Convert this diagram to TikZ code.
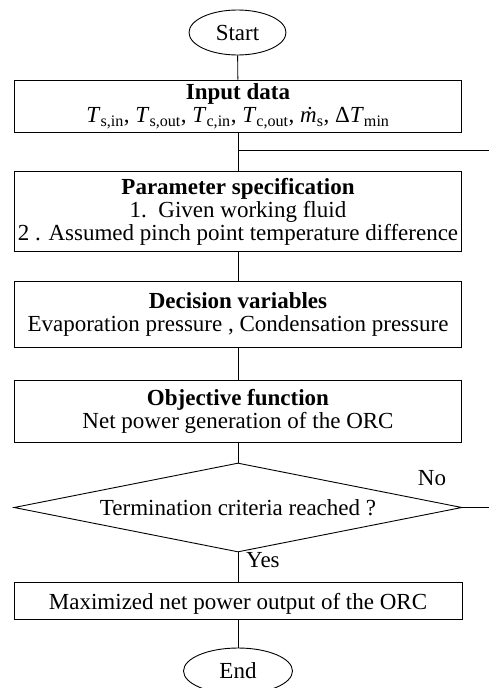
\documentclass[tikz,border=0pt]{standalone}
\usepackage{fontspec}
\setmainfont{Liberation Serif}
\usetikzlibrary{shapes.geometric}
\tikzset{
  base/.style={font=\fontsize{23pt}{23pt}\selectfont, line width=0.9pt},
  procbox/.style={base, draw, rectangle, minimum width=447pt, align=center, inner sep=0pt,
    execute at begin node={\rule{0pt}{22pt}}},
  term/.style={base, draw, ellipse, inner sep=0pt},
  decide/.style={base, draw, diamond, aspect=5, inner sep=0pt, minimum width=448pt, minimum height=89pt},
  conn/.style={line width=0.9pt},
  lbl/.style={font=\fontsize{23pt}{23pt}\selectfont, inner sep=0pt}
}
\begin{document}
\begin{tikzpicture}[x=1pt,y=-1pt]
\useasboundingbox (0,0) rectangle (489,688);
\clip (0,0) rectangle (489,688);
\node[term, minimum width=97pt, minimum height=45pt] (start) at (237.5,32.5) {Start};
\node[procbox, minimum height=52pt] (input) at (238,106)
  {\textbf{Input data}\\
   \textit{T}\textsubscript{s,in}, \textit{T}\textsubscript{s,out}, \textit{T}\textsubscript{c,in}, \textit{T}\textsubscript{c,out}, \textit{\.m}\textsubscript{s}, Δ\textit{T}\textsubscript{min}};
\node[procbox, minimum height=80pt] (param) at (238,211.5)
  {\textbf{Parameter specification}\\
   1.\ \ Given working fluid\\
   2 . Assumed pinch point temperature difference};
\node[procbox, minimum height=66pt] (decvar) at (238,314)
  {\textbf{Decision variables}\\
   Evaporation pressure , Condensation pressure};
\node[procbox, minimum height=62pt] (objfun) at (238,411)
  {\textbf{Objective function}\\
   Net power generation of the ORC};
\node[decide] (crit) at (238,507.5) {Termination criteria reached ?};
\node[procbox, minimum width=448pt, minimum height=37pt] (maxim) at (238,600.5)
  {Maximized net power output of the ORC};
\node[term, minimum width=109pt, minimum height=46pt] (finish) at (238,671) {End};
\node[lbl] (no) at (432,478) {No};
\node[lbl, anchor=west] (yes) at (246,560) {Yes};
\coordinate (branch) at (238,150);
\coordinate (branchR) at (489,150);
\coordinate (noR) at (489,507.5);
\draw[conn] (start) -- (input);
\draw[conn] (input) -- (param);
\draw[conn] (branch) -- (branchR);
\draw[conn] (param) -- (decvar);
\draw[conn] (decvar) -- (objfun);
\draw[conn] (objfun) -- (crit);
\draw[conn] (crit.east) -- (noR);
\draw[conn] (crit) -- (maxim);
\draw[conn] (maxim) -- (finish);
\end{tikzpicture}
\end{document}
